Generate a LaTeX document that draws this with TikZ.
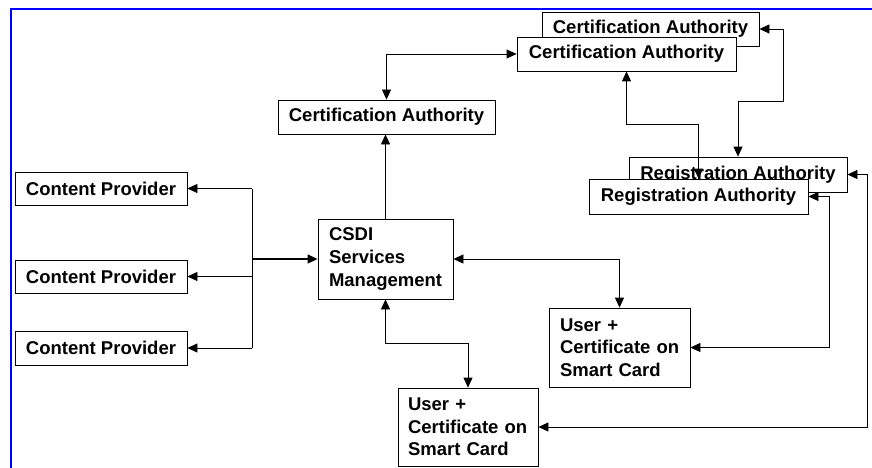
\documentclass[tikz,border=0pt]{standalone}
\usepackage{fontspec}
\setmainfont{Liberation Sans}
\usetikzlibrary{arrows.meta}
\tikzset{
  box/.style={draw, fill=white, line width=0.8pt, inner sep=0pt, minimum height=34pt,
    font=\bfseries\fontsize{18.5}{22.5}\selectfont},
  mbox/.style={draw, fill=white, line width=0.8pt, inner xsep=11pt, inner ysep=0pt,
    align=left, font=\bfseries\fontsize{18.5}{22.5}\selectfont},
  conn/.style={line width=0.8pt},
  arr/.style={conn, -{Triangle[length=10pt,width=9pt]}},
  dbl/.style={conn, {Triangle[length=10pt,width=9pt]}-{Triangle[length=10pt,width=9pt]}},
}
\begin{document}
\begin{tikzpicture}[x=1pt,y=-1pt]
\useasboundingbox (0,0) rectangle (872,468);
% frame
\draw[blue, line width=1.8pt] (11,470) -- (11,9) -- (874,9);

% boxes
\node[box, minimum width=217pt] (caback) at (650.5,29) {Certification Authority};
\node[box, minimum width=219pt] (cafront) at (626.5,54) {Certification Authority};
\node[box, minimum width=217pt] (camid) at (386.5,117) {Certification Authority};
\node[box, minimum width=218pt, minimum height=35pt] (raback) at (738,174.5) {Registration Authority};
\node[box, minimum width=219pt, minimum height=35pt] (rafront) at (698.5,196.5) {Registration Authority};
\node[box, minimum width=172pt, minimum height=33pt] (cp1) at (101,188.5) {Content Provider};
\node[box, minimum width=172pt, minimum height=33pt] (cp2) at (101,276.5) {Content Provider};
\node[box, minimum width=172pt, minimum height=34pt] (cp3) at (101,348) {Content Provider};
\node[mbox, text width=113pt, minimum height=80pt] (csdi) at (385.5,259) {CSDI\\Services\\Management};
\node[mbox, text width=119pt, minimum height=79pt] (user1) at (619.5,347.5) {User +\\\mbox{Certificate on}\\Smart Card};
\node[mbox, inner xsep=10pt, text width=120pt, minimum height=78pt] (user2) at (468,427) {User +\\\mbox{Certificate on}\\Smart Card};

% connectors
\coordinate (trunk) at (252,259);
\draw[arr, line width=1.3pt] (trunk) -- (csdi.west);
\draw[conn] (cp1.east -| trunk) -- (cp3.east -| trunk);
\draw[arr] (cp1.east -| trunk) -- (cp1.east);
\draw[arr] (cp2.east -| trunk) -- (cp2.east);
\draw[arr] (cp3.east -| trunk) -- (cp3.east);

\draw[arr] (csdi.north) -- (csdi.north |- camid.south);
\draw[dbl] (camid.north) |- (cafront.west);
\draw[dbl] (cafront.south) -- ++(0,53) -| (rafront.north);
\draw[dbl] (caback.east) -- ++(24,0) -- ++(0,72) -| (raback.north);
\draw[dbl] (csdi.east) -| (user1.north);
\draw[dbl] (csdi.south) -- ++(0,44) -| (user2.north);
\draw[dbl] (rafront.east) -- ++(21,0) |- (user1.east);
\draw[dbl] (raback.east) -- ++(20,0) |- (user2.east);
\end{tikzpicture}
\end{document}
